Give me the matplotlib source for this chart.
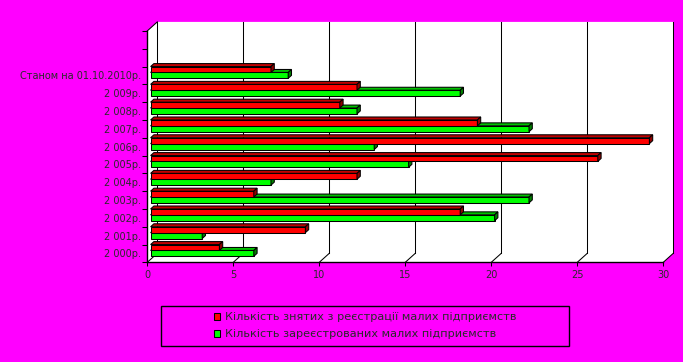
import matplotlib
matplotlib.use("Agg")
import matplotlib.pyplot as plt
from matplotlib.patches import Polygon, Rectangle, Patch

# ---- data ----
categories = ['2 000р.', '2 001р.', '2 002р.', '2 003р.', '2 004р.', '2 005р.',
              '2 006р.', '2 007р.', '2 008р.', '2 009р.', 'Станом на 01.10.2010р.']
removed = [4, 9, 18, 6, 12, 26, 29, 19, 11, 12, 7]        # red
registered = [6, 3, 20, 22, 7, 15, 13, 22, 12, 18, 8]     # green
xticks = [0, 5, 10, 15, 20, 25, 30]
legend_labels = ['Кількість знятих з реєстрації малих підприємств',
                 'Кількість зареєстрованих малих підприємств']

MAG = '#FF00FF'
RED, RED_TOP, RED_SIDE = '#FF0000', '#C00000', '#900000'
GRN, GRN_TOP, GRN_SIDE = '#00FF00', '#00C000', '#008000'
TXT = '#2a2a2a'
FONT = 'DejaVu Sans'

W, H = 683, 362
fig = plt.figure(figsize=(W / 100, H / 100), dpi=100, facecolor=MAG)

# plot area in pixels
x_left, x_right, y_bottom, y_top = 147.3, 673.3, 262.3, 22.0
px_per_unit = (663.3 - 147.3) / 30.0
px_per_slot = 17.8
ax = fig.add_axes([x_left / W, 1 - y_bottom / H, (x_right - x_left) / W, (y_bottom - y_top) / H])
ax.set_xlim(0, (x_right - x_left) / px_per_unit)
ax.set_ylim(0, (y_bottom - y_top) / px_per_slot)
ax.patch.set_visible(False)

DX = 10 / px_per_unit   # depth offset in x
DY = 9 / px_per_slot    # depth offset in y
NSLOT = 13
XMAX = 30

lw = 0.75
# white walls
wall = Polygon([(0, 0), (0, NSLOT), (DX, NSLOT + DY), (XMAX + DX, NSLOT + DY),
                (XMAX + DX, DY), (XMAX, 0)], closed=True, facecolor='white',
               edgecolor='none', zorder=0, clip_on=False)
ax.add_patch(wall)
ax.plot([0, DX], [NSLOT, NSLOT + DY], color='black', lw=lw, zorder=1, clip_on=False)
for t in xticks:
    ax.plot([t + DX, t + DX], [DY, NSLOT + DY], color='black', lw=lw, zorder=1, clip_on=False)
    ax.plot([t, t + DX], [0, DY], color='black', lw=lw, zorder=1, clip_on=False)

# bars
F = 0.33   # front offset (fraction of depth)
D = 0.33   # bar depth (fraction of depth)
BH = 0.33  # bar height in slots
x0 = F * DX
for i in range(len(categories)):
    for val, base, cf, ct, cs in [(registered[i], i + 0.17, GRN, GRN_TOP, GRN_SIDE),
                                  (removed[i], i + 0.50, RED, RED_TOP, RED_SIDE)]:
        yb = base + F * DY
        yt = yb + BH
        ax.barh(yb, val, left=x0, height=BH, align='edge', color=cf,
                edgecolor='black', linewidth=lw, zorder=3, clip_on=False)
        top = Polygon([(x0, yt), (x0 + val, yt), (x0 + val + D * DX, yt + D * DY),
                       (x0 + D * DX, yt + D * DY)], closed=True, facecolor=ct,
                      edgecolor='black', linewidth=lw, zorder=3, clip_on=False)
        side = Polygon([(x0 + val, yb), (x0 + val, yt), (x0 + val + D * DX, yt + D * DY),
                        (x0 + val + D * DX, yb + D * DY)], closed=True, facecolor=cs,
                       edgecolor='black', linewidth=lw, zorder=3, clip_on=False)
        ax.add_patch(top)
        ax.add_patch(side)

# spines / axes
for s in ['top', 'right']:
    ax.spines[s].set_visible(False)
ax.spines['bottom'].set_bounds(0, XMAX)
ax.spines['left'].set_bounds(0, NSLOT)
ax.spines['bottom'].set_linewidth(1.0)
ax.spines['left'].set_linewidth(1.0)
ax.spines['bottom'].set_zorder(5)
ax.spines['left'].set_zorder(5)

ax.set_xticks(xticks)
ax.set_xticklabels([str(t) for t in xticks], fontsize=7, family=FONT, color=TXT)
ax.tick_params(axis='x', direction='out', length=3, width=0.75, pad=2.5)

ax.set_yticks(range(NSLOT + 1))
ax.set_yticklabels([])
ax.tick_params(axis='y', which='major', direction='out', length=3.4, width=0.75)
ax.set_yticks([i + 0.5 for i in range(len(categories))], minor=True)
ax.set_yticklabels(categories, minor=True, fontsize=7, family=FONT, color=TXT)
ax.tick_params(axis='y', which='minor', length=0, pad=4.3)

# legend
lx0, ly0, lx1, ly1 = 161.3, 305.7, 568.7, 346.0
fig.patches.append(Rectangle((lx0 / W, 1 - ly1 / H), (lx1 - lx0) / W, (ly1 - ly0) / H,
                             transform=fig.transFigure, facecolor=MAG, edgecolor='black',
                             linewidth=1.0, zorder=0))
handles = [Patch(facecolor=RED, edgecolor='black', linewidth=0.75),
           Patch(facecolor=GRN, edgecolor='black', linewidth=0.75)]
leg = fig.legend(handles, legend_labels, loc='center',
                 bbox_to_anchor=((lx0 + lx1) / 2 / W, 1 - (ly0 + ly1) / 2 / H),
                 frameon=False, prop={'family': FONT, 'size': 8.1},
                 handlelength=0.55, handleheight=0.55, handletextpad=0.45,
                 labelspacing=0.62, borderpad=0)
for t in leg.get_texts():
    t.set_color(TXT)

fig.savefig('out.png', dpi=100, facecolor=MAG)
